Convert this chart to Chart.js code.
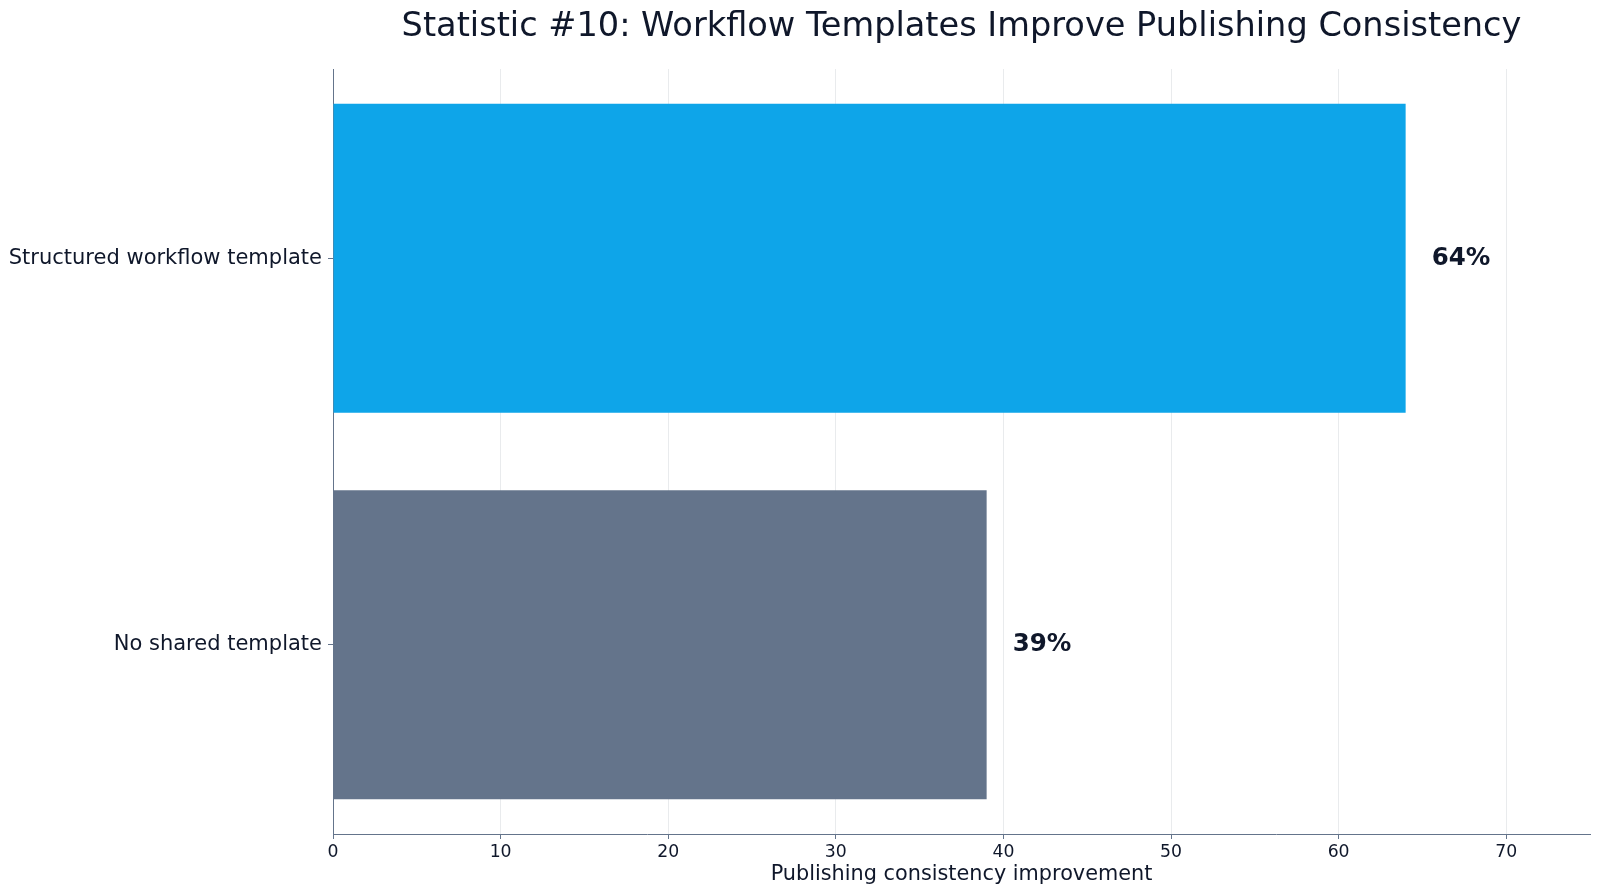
<!DOCTYPE html>
<html>
<head>
<meta charset="utf-8">
<script src="https://cdn.jsdelivr.net/npm/chart.js@4"></script>
<style>
  html, body { margin: 0; padding: 0; background: #ffffff; }
  #wrap { width: 1600px; height: 896px; }
</style>
</head>
<body>
<div id="wrap"><canvas id="myChart" width="1600" height="896"></canvas></div>
<script>
const categories = ['Structured workflow template', 'No shared template'];
const improvement = [64, 39];
const barColors = ['#0ea5e9', '#64748b'];
const xTicks = [0, 10, 20, 30, 40, 50, 60, 70];
const chartTitle = 'Statistic #10: Workflow Templates Improve Publishing Consistency';
const xTitle = 'Publishing consistency improvement';

const FONT = '"DejaVu Sans", sans-serif';
const INK = '#0f172a';
const AXIS = '#64748b';

// title centred over the plot area, like the original
const titlePlugin = {
    id: 'plotTitle',
    afterDraw(chart) {
        const ctx = chart.ctx;
        const area = chart.chartArea;
        ctx.save();
        ctx.font = '33.6px ' + FONT;
        ctx.fillStyle = INK;
        ctx.textAlign = 'center';
        ctx.textBaseline = 'alphabetic';
        ctx.fillText(chartTitle, (area.left + area.right) / 2, 36);
        ctx.restore();
    }
};

// bold value labels to the right of each bar
const valueLabels = {
    id: 'valueLabels',
    afterDatasetsDraw(chart) {
        const ctx = chart.ctx;
        const meta = chart.getDatasetMeta(0);
        ctx.save();
        ctx.font = 'bold 24.5px ' + FONT;
        ctx.fillStyle = INK;
        ctx.textAlign = 'left';
        ctx.textBaseline = 'middle';
        meta.data.forEach(function (bar, i) {
            ctx.fillText(improvement[i] + '%', bar.x + 26, bar.y);
        });
        ctx.restore();
    }
};

// y is a numeric index so the bars keep matplotlib-like margins
const points = improvement.map((v, i) => ({ x: v, y: i }));

const ctx = document.getElementById('myChart').getContext('2d');
const myChart = new Chart(ctx, {
    type: 'bar',
    data: {
        datasets: [{
            data: points,
            backgroundColor: barColors,
            borderWidth: 0,
            categoryPercentage: 1.0,
            barPercentage: 0.8
        }]
    },
    options: {
        indexAxis: 'y',
        responsive: false,
        animation: false,
        layout: { padding: { top: 69, right: 10, left: 0, bottom: 0 } },
        plugins: {
            legend: { display: false },
            tooltip: { enabled: false },
            title: { display: false }
        },
        scales: {
            x: {
                type: 'linear',
                min: 0,
                max: 75,
                z: 1,
                afterBuildTicks: function (scale) {
                    scale.ticks = xTicks.map(v => ({ value: v }));
                },
                afterFit: function (scale) { scale.height = 62; },
                grid: {
                    color: 'rgba(120,130,140,0.16)',
                    lineWidth: 1,
                    drawTicks: true,
                    tickLength: 5,
                    tickColor: AXIS
                },
                border: { display: true, color: AXIS, width: 1 },
                ticks: {
                    color: INK,
                    padding: 3,
                    font: { family: FONT, size: 17.25 }
                },
                title: {
                    display: true,
                    text: xTitle,
                    color: INK,
                    padding: { top: 0, bottom: 9 },
                    font: { family: FONT, size: 20.8 }
                }
            },
            y: {
                type: 'linear',
                min: -0.49,
                max: 1.49,
                reverse: true,
                offset: false,
                afterBuildTicks: function (scale) {
                    scale.ticks = categories.map((c, i) => ({ value: i }));
                },
                afterFit: function (scale) { scale.width = 333; },
                grid: {
                    offset: false,
                    drawOnChartArea: false,
                    drawTicks: true,
                    tickLength: 5,
                    tickColor: AXIS
                },
                border: { display: true, color: AXIS, width: 1 },
                ticks: {
                    color: INK,
                    padding: 6,
                    font: { family: FONT, size: 21 },
                    callback: function (value) { return categories[value]; }
                }
            }
        }
    },
    plugins: [titlePlugin, valueLabels]
});
</script>
</body>
</html>
